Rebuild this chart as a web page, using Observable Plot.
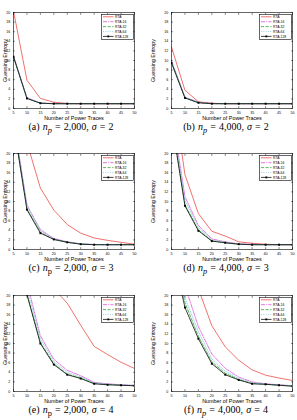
<!DOCTYPE html>
<html>
<head>
<meta charset="utf-8">
<script src="https://cdn.jsdelivr.net/npm/d3@7"></script>
<script src="https://cdn.jsdelivr.net/npm/@observablehq/plot@0.6"></script>
<style>
  body { margin: 0; background: #fff; }
  #fig { position: relative; width: 297px; height: 420px; overflow: hidden; background: #fff; }
  .cell { position: absolute; }
  .cell svg { display: block; }
  .cap { position: absolute; font-family: "Liberation Serif", "Times New Roman", serif; font-size: 10px;
         line-height: 12px; white-space: nowrap; transform: translateX(-50%); color: #000; word-spacing: 0.6px; }
  .legend { position: absolute; }
</style>
</head>
<body>
<div id="fig"></div>
<script>
// Number of power traces (x) and tick values
const traces = [5, 10, 15, 20, 25, 30, 35, 40, 45, 50];
const xTicks = [5, 10, 15, 20, 25, 30, 35, 40, 45, 50];
const yTicks = [0, 2, 4, 6, 8, 10, 12, 14, 16, 18, 20];

// Series names and styles
const seriesNames = ["RTA", "RTA-16", "RTA-32", "RTA-64", "RTA-128"];
const seriesColors = ["#e8433d", "#d64bd6", "#22a322", "#86c3e4", "#000000"];
const seriesDashes = [null, "4,1.2,1,1.2", "3,1.6", "1,1.3", null];

// (a) n_p = 2,000, sigma = 2
const a_RTA    = [20.3, 5.9, 2.1, 1.3, 1.05, 1.0, 1.0, 1.0, 1.0, 1.0];
const a_RTA16  = [10.9, 2.25, 1.15, 1.02, 1.0, 1.0, 1.0, 1.0, 1.0, 1.0];
const a_RTA32  = [10.7, 2.1, 1.1, 1.0, 1.0, 1.0, 1.0, 1.0, 1.0, 1.0];
const a_RTA64  = [10.8, 2.2, 1.1, 1.0, 1.0, 1.0, 1.0, 1.0, 1.0, 1.0];
const a_RTA128 = [10.8, 2.1, 1.1, 1.0, 1.0, 1.0, 1.0, 1.0, 1.0, 1.0];

// (b) n_p = 4,000, sigma = 2
const b_RTA    = [12.8, 3.8, 1.4, 1.1, 1.0, 1.0, 1.0, 1.0, 1.0, 1.0];
const b_RTA16  = [9.9, 2.4, 1.3, 1.05, 1.0, 1.0, 1.0, 1.0, 1.0, 1.0];
const b_RTA32  = [9.6, 2.2, 1.2, 1.0, 1.0, 1.0, 1.0, 1.0, 1.0, 1.0];
const b_RTA64  = [9.8, 2.3, 1.25, 1.02, 1.0, 1.0, 1.0, 1.0, 1.0, 1.0];
const b_RTA128 = [9.5, 2.2, 1.2, 1.0, 1.0, 1.0, 1.0, 1.0, 1.0, 1.0];

// (c) n_p = 2,000, sigma = 3
const c_RTA    = [36, 22.3, 12.8, 8.2, 5.2, 3.4, 2.4, 1.9, 1.5, 1.1];
const c_RTA16  = [27, 9.3, 4.0, 2.3, 1.6, 1.2, 1.05, 1.0, 1.0, 1.0];
const c_RTA32  = [26, 8.5, 3.6, 2.1, 1.5, 1.15, 1.0, 1.0, 1.0, 1.0];
const c_RTA64  = [27, 9.0, 4.3, 2.2, 1.5, 1.2, 1.0, 1.0, 1.0, 1.0];
const c_RTA128 = [26.3, 8.3, 3.4, 2.1, 1.5, 1.1, 1.0, 1.0, 1.0, 1.0];

// (d) n_p = 4,000, sigma = 3
const d_RTA    = [35, 15.6, 7.5, 3.8, 2.8, 1.6, 1.3, 1.1, 1.0, 1.0];
const d_RTA16  = [29, 11.0, 5.0, 2.2, 1.6, 1.2, 1.1, 1.0, 1.0, 1.0];
const d_RTA32  = [27, 9.3, 4.1, 1.8, 1.4, 1.1, 1.0, 1.0, 1.0, 1.0];
const d_RTA64  = [28, 10.2, 4.6, 2.0, 1.5, 1.15, 1.0, 1.0, 1.0, 1.0];
const d_RTA128 = [27, 9.1, 3.9, 1.75, 1.4, 1.1, 1.0, 1.0, 1.0, 1.0];

// (e) n_p = 2,000, sigma = 4
const e_RTA    = [40, 33, 26, 21.4, 18.4, 13.8, 9.4, 7.7, 6.1, 4.8];
const e_RTA16  = [34, 22.7, 11.6, 6.7, 4.4, 3.3, 1.9, 1.6, 1.4, 1.3];
const e_RTA32  = [31, 20.3, 10.2, 5.8, 3.6, 2.8, 1.7, 1.45, 1.3, 1.2];
const e_RTA64  = [33, 21.5, 11.0, 6.2, 4.0, 3.0, 1.8, 1.5, 1.35, 1.25];
const e_RTA128 = [30, 20.2, 10.0, 5.6, 3.5, 2.7, 1.6, 1.4, 1.3, 1.2];

// (f) n_p = 4,000, sigma = 4
const f_RTA    = [40, 30, 21.4, 13.7, 9.3, 6.5, 4.5, 3.4, 2.8, 2.3];
const f_RTA16  = [33, 22, 13.5, 7.8, 4.8, 3.0, 2.0, 1.6, 1.4, 1.2];
const f_RTA32  = [30, 18.5, 11.5, 6.2, 3.8, 2.5, 1.7, 1.5, 1.3, 1.15];
const f_RTA64  = [31, 19.5, 12.5, 6.8, 4.2, 2.7, 1.8, 1.55, 1.35, 1.2];
const f_RTA128 = [30, 17.5, 11.0, 5.8, 3.5, 2.4, 1.6, 1.5, 1.3, 1.1];

const captions = [
  "(a) <i>n<sub>p</sub></i> = 2,000, <i>σ</i> = 2",
  "(b) <i>n<sub>p</sub></i> = 4,000, <i>σ</i> = 2",
  "(c) <i>n</i><sub>p</sub> = 2,000, <i>σ</i> = 3",
  "(d) <i>n<sub>p</sub></i> = 4,000, <i>σ</i> = 3",
  "(e) <i>n</i><sub>p</sub> = 2,000, <i>σ</i> = 4",
  "(f) <i>n<sub>p</sub></i> = 4,000, <i>σ</i> = 4"
];

const panels = [
  [a_RTA, a_RTA16, a_RTA32, a_RTA64, a_RTA128],
  [b_RTA, b_RTA16, b_RTA32, b_RTA64, b_RTA128],
  [c_RTA, c_RTA16, c_RTA32, c_RTA64, c_RTA128],
  [d_RTA, d_RTA16, d_RTA32, d_RTA64, d_RTA128],
  [e_RTA, e_RTA16, e_RTA32, e_RTA64, e_RTA128],
  [f_RTA, f_RTA16, f_RTA32, f_RTA64, f_RTA128]
];

const FONT = "'Liberation Sans', Arial, Helvetica, sans-serif";
const fig = document.getElementById("fig");

// column / row geometry of the 2 x 3 grid
const cols = [
  {left: 0, width: 148, marginLeft: 13, marginRight: 14, capX: 71},
  {left: 148, width: 149, marginLeft: 23, marginRight: 5, capX: 78}
];
const rowTops = [0, 141, 283];
const MT = 12, MB = 14, PH = 96;

function drawPanel(series, col, top, caption) {
  const rows = [];
  series.forEach((vals, i) => vals.forEach((v, j) => rows.push({name: seriesNames[i], x: traces[j], y: v})));
  const pick = (n) => rows.filter((d) => d.name === n);

  const chart = Plot.plot({
    width: col.width,
    height: MT + PH + MB,
    marginTop: MT,
    marginBottom: MB,
    marginLeft: col.marginLeft,
    marginRight: col.marginRight,
    style: {fontFamily: FONT, background: "transparent", overflow: "visible"},
    x: {domain: [5, 50]},
    y: {domain: [0, 20]},
    marks: [
      ...seriesNames.map((n, i) =>
        Plot.line(pick(n), {x: "x", y: "y", stroke: seriesColors[i], strokeWidth: 0.75,
          strokeDasharray: seriesDashes[i], clip: true})),
      Plot.dot(pick("RTA-128"), {x: "x", y: "y", symbol: "square", r: 1.1, fill: "#000", stroke: null, clip: true}),
      Plot.frame({stroke: "#000", strokeWidth: 0.6}),
      // inward ticks on all four sides
      Plot.axisX({ticks: xTicks, tickSize: -1.8, tickPadding: 5.2, fontSize: 3.6, label: null, strokeWidth: 0.5}),
      Plot.axisX({anchor: "top", ticks: xTicks, tickSize: -1.8, tickFormat: () => "", label: null, strokeWidth: 0.5}),
      Plot.axisY({ticks: yTicks, tickSize: -1.8, tickPadding: 5, fontSize: 3.6, label: null, strokeWidth: 0.5}),
      Plot.axisY({anchor: "right", ticks: yTicks, tickSize: -1.8, tickFormat: () => "", label: null, strokeWidth: 0.5}),
      // axis titles
      Plot.axisX({ticks: [], tickSize: 0, label: "Number of Power Traces", labelAnchor: "center",
        labelArrow: "none", labelOffset: 11.5, fontSize: 5.4}),
      Plot.axisY({ticks: [], tickSize: 0, label: "Guessing Entropy", labelAnchor: "center",
        labelArrow: "none", labelOffset: col.marginLeft - 3, fontSize: 5.4})
    ]
  });

  const cell = document.createElement("div");
  cell.className = "cell";
  cell.style.left = col.left + "px";
  cell.style.top = top + "px";
  cell.appendChild(chart);
  fig.appendChild(cell);

  // legend box in the top-right corner of the plot area
  const lw = 32, lh = 25;
  const lg = d3.select(fig).append("svg")
    .attr("class", "legend")
    .attr("width", lw + 1).attr("height", lh + 1)
    .style("left", (col.left + col.width - col.marginRight - 1.5 - lw) + "px")
    .style("top", (top + MT + 2) + "px");
  lg.append("rect").attr("x", 0.3).attr("y", 0.3).attr("width", lw).attr("height", lh)
    .attr("fill", "#fff").attr("stroke", "#000").attr("stroke-width", 0.6);
  seriesNames.forEach((n, i) => {
    const yy = 2.8 + i * 4.9;
    lg.append("line").attr("x1", 2).attr("x2", 12.5).attr("y1", yy).attr("y2", yy)
      .attr("stroke", seriesColors[i]).attr("stroke-width", 0.75)
      .attr("stroke-dasharray", seriesDashes[i]);
    if (n === "RTA-128") {
      lg.append("rect").attr("x", 6.4).attr("y", yy - 0.9).attr("width", 1.8).attr("height", 1.8).attr("fill", "#000");
    }
    lg.append("text").attr("x", 14).attr("y", yy).attr("dy", "0.35em")
      .attr("font-family", FONT).attr("font-size", 3.4).attr("fill", "#000").text(n);
  });

  const cap = document.createElement("div");
  cap.className = "cap";
  cap.innerHTML = caption;
  cap.style.left = (col.left + col.capX) + "px";
  cap.style.top = (top + 121) + "px";
  fig.appendChild(cap);
}

panels.forEach((series, k) => {
  const col = cols[k % 2];
  const top = rowTops[Math.floor(k / 2)];
  drawPanel(series, col, top, captions[k]);
});
</script>
</body>
</html>
